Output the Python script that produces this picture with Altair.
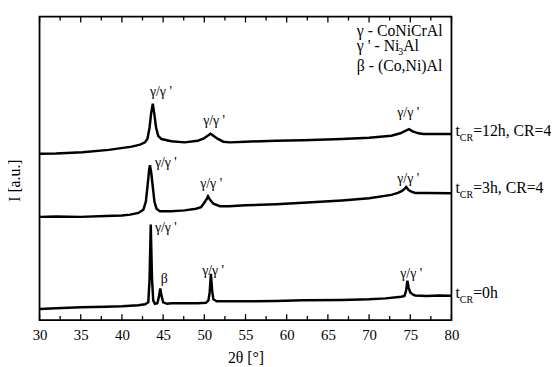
import altair as alt
import pandas as pd

# ---- data (2theta in degrees, intensity in arbitrary units) ----
x_0h = [30, 32, 35, 38, 40, 42, 42.8, 43.2, 43.35, 43.5, 43.65, 43.8, 44.0, 44.3, 44.5, 44.65, 44.8, 45.0,
        45.5, 46, 48, 49.2, 50.2, 50.5, 50.65, 50.8, 50.95, 51.1, 51.5, 52.3, 55, 58.7, 62, 66.7, 70, 72,
        73.9, 74.3, 74.5, 74.65, 74.8, 75.0, 75.3, 75.6, 77, 78.5, 80]
i_0h = [11.3, 12, 13, 13.5, 14, 15, 16, 18, 40, 97, 42, 20, 16.5, 17, 24, 32, 25, 18,
        16.5, 17, 17, 17, 17.5, 20, 28, 47, 30, 21, 19, 19, 19, 19.3, 20, 20.3, 21, 22,
        23.7, 24.5, 30, 40, 33, 28, 26, 25, 24.5, 25, 24.7]

x_3h = [30, 32, 35, 38, 40, 41, 42, 42.6, 42.9, 43.1, 43.3, 43.4, 43.55, 43.75, 43.95, 44.2, 44.6, 46,
        47.6, 49, 49.6, 50.0, 50.3, 50.45, 50.7, 51.1, 51.9, 53, 55, 58.7, 62, 66.7, 70, 72.7, 73.5,
        74.0, 74.3, 74.5, 74.8, 75.2, 75.6, 77, 80]
i_3h = [104.7, 105, 104.7, 105.5, 106, 107, 108.7, 112, 120, 135, 152, 157, 150, 135, 120, 113, 110.5, 110.5,
        111.3, 113, 114.5, 119, 123, 125.5, 122, 118, 115.5, 115.5, 116.5, 117.5, 119, 121.3, 123.5, 127, 129,
        131, 133, 135, 132, 130, 129, 129, 128.7]

x_12h = [30, 32, 35.2, 38.4, 41.2, 42.2, 42.8, 43.1, 43.35, 43.55, 43.75, 43.95, 44.15, 44.4, 44.8, 46,
         47.6, 49.2, 49.9, 50.4, 50.75, 51.1, 51.6, 52.3, 53.1, 55, 58.7, 62, 66.7, 70, 72.7, 73.8,
         74.4, 74.85, 75.3, 76.0, 76.6, 78, 80]
i_12h = [168.7, 169, 170.3, 172.7, 176, 178, 180.3, 184, 195, 210, 219.5, 208, 195, 187, 183.7, 181.5,
         180.3, 182, 184, 187, 189, 187, 184, 181, 180.3, 181, 182, 182.5, 183.7, 185, 187, 189.5,
         192, 193.7, 191.5, 189.5, 188.7, 188.7, 188.7]

tick_major = [30, 35, 40, 45, 50, 55, 60, 65, 70, 75, 80]
tick_minor = [32.5, 37.5, 42.5, 47.5, 52.5, 57.5, 62.5, 67.5, 72.5, 77.5]

peak_text = ["γ/γ '", "γ/γ '", "γ/γ '", "γ/γ '", "γ/γ '", "γ/γ '", "γ/γ '", "β", "γ/γ '", "γ/γ '"]
peak_x = [43.4, 49.86, 73.42, 44.0, 49.5, 73.42, 44.0, 44.7, 49.74, 73.78]
peak_y = [227, 198, 206, 155, 134, 139, 89, 38, 46, 43]

FONT = "Liberation Serif"

rows = []
for name, xs, ys in [("0h", x_0h, i_0h), ("3h", x_3h, i_3h), ("12h", x_12h, i_12h)]:
    for a, b in zip(xs, ys):
        rows.append({"x": a, "y": b, "s": name})
df = pd.DataFrame(rows)

xscale = alt.Scale(domain=[30, 80], nice=False, zero=False)
yscale = alt.Scale(domain=[0, 308], nice=False, zero=False)

lines = alt.Chart(df).mark_line(color="black", strokeWidth=2.5).encode(
    x=alt.X("x:Q", scale=xscale,
            axis=alt.Axis(values=tick_major, title="2θ [°]", domain=False, ticks=False, tickSize=0,
                          grid=False, labelFont=FONT, labelFontSize=15, labelColor="black",
                          labelFlush=False, labelPadding=8, titleFont=FONT, titleFontSize=16,
                          titleFontWeight="normal", titleColor="black", titlePadding=7)),
    y=alt.Y("y:Q", scale=yscale,
            axis=alt.Axis(labels=False, ticks=False, tickSize=0, domain=False, grid=False,
                          title="I [a.u.]", titleFont=FONT, titleFontSize=16, titleFontWeight="normal",
                          titleColor="black", titlePadding=17, titleY=166)),
    detail="s:N",
)

tmaj = pd.DataFrame({"x": tick_major})
tmin = pd.DataFrame({"x": tick_minor})
ticks = []
for d, ln in [(tmaj, 6), (tmin, 4)]:
    ticks.append(alt.Chart(d).mark_rule(color="black", strokeWidth=1.3).encode(
        x=alt.X("x:Q", scale=xscale), y=alt.value(308 - ln), y2=alt.value(308)))
    ticks.append(alt.Chart(d).mark_rule(color="black", strokeWidth=1.3).encode(
        x=alt.X("x:Q", scale=xscale), y=alt.value(0), y2=alt.value(ln)))

pk = pd.DataFrame({"x": peak_x, "y": peak_y, "t": peak_text})
peaks = alt.Chart(pk).mark_text(align="left", baseline="alphabetic", font=FONT, fontSize=14,
                                color="black").encode(
    x=alt.X("x:Q", scale=xscale), y=alt.Y("y:Q", scale=yscale), text="t:N")


def txt(s, px, py, size, font=FONT):
    return alt.Chart(pd.DataFrame({"t": [s]})).mark_text(
        align="left", baseline="alphabetic", font=font, fontSize=size, color="black"
    ).encode(x=alt.value(px), y=alt.value(py), text="t:N")


# plot area origin at page (40, 14)
texts = [
    txt("γ - CoNiCrAl", 322, 20, 16),
    txt("γ ' - Ni", 322, 35, 16),
    txt("3", 364, 39, 10),
    txt("Al", 369, 35, 16),
    txt("β - (Co,Ni)Al", 322, 55, 16),
]
for label, base in [("=12h, CR=4", 121), ("=3h, CR=4", 179), ("=0h", 286)]:
    texts.append(txt("t", 422, base, 16))
    texts.append(txt("CR", 426.5, base + 5, 10))
    texts.append(txt(label, 440, base, 16))

chart = alt.layer(lines, *ticks, peaks, *texts).properties(
    width=418, height=308,
    autosize=alt.AutoSizeParams(type="none"),
    padding={"left": 32, "top": 6, "right": 101, "bottom": 45},
    background="white",
).configure_view(stroke="black", strokeWidth=1.8)

chart.save("out.html", embed_options={"renderer": "svg", "actions": False})
